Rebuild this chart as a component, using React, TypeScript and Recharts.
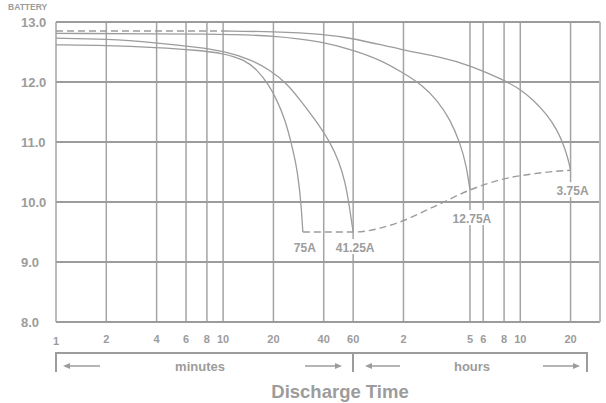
import React from 'react';
import { LineChart, Line, XAxis, YAxis, CartesianGrid, ReferenceLine, ReferenceDot } from 'recharts';

const GRAY = '#9c9c9c';
const FONT = '"Liberation Sans", Arial, Helvetica, sans-serif';

// discharge time in minutes, log axis; labels switch to hours after 60
const timeTicks = [1, 2, 4, 6, 8, 10, 20, 40, 60, 120, 300, 360, 480, 600, 1200];
const timeTickLabels = ['1', '2', '4', '6', '8', '10', '20', '40', '60', '2', '5', '6', '8', '10', '20'];
const voltTicks = [8, 9, 10, 11, 12, 13];
const voltTickLabels = ['8.0', '9.0', '10.0', '11.0', '12.0', '13.0'];

// 75A
const t75A = [1, 2, 4, 7, 10, 13.5, 16, 18.6, 21, 23.5, 25.5, 27.4, 28.5, 29.3, 30];
const v75A = [12.62, 12.61, 12.575, 12.53, 12.48, 12.37, 12.2, 11.97, 11.7, 11.37, 11.0, 10.62, 10.28, 9.95, 9.5];
// 41.25A
const t41A = [1, 2, 4, 7, 10, 14.5, 19.1, 24.2, 28.9, 35.6, 43.7, 49.5, 53.8, 56.8, 60];
const v41A = [12.73, 12.72, 12.655, 12.58, 12.52, 12.38, 12.2, 11.97, 11.7, 11.37, 11.0, 10.67, 10.33, 9.95, 9.5];
// 12.75A
const t12A = [1, 10, 20, 40, 60, 87, 120, 155, 191, 229, 262, 285, 300];
const v12A = [12.81, 12.8, 12.775, 12.67, 12.53, 12.37, 12.15, 11.95, 11.7, 11.37, 10.98, 10.62, 10.2];
// 3.75A
const t3A = [10, 20, 40, 60, 120, 199, 300, 480, 600, 718, 859, 1000, 1102, 1164, 1200];
const v3A = [12.85, 12.84, 12.8, 12.73, 12.53, 12.42, 12.28, 12.03, 11.88, 11.7, 11.47, 11.2, 10.92, 10.7, 10.53];
// dashed: float level at start, and end-of-discharge voltage
const tFloat = [1, 10];
const vFloat = [12.85, 12.85];
const tEnd = [30, 60, 115, 182, 300, 456, 718, 1200];
const vEnd = [9.5, 9.5, 9.67, 9.92, 10.2, 10.37, 10.47, 10.53];

const toPoints = (t: number[], v: number[]) => t.map((m, i) => ({ t: m, v: v[i] }));

const curves = [
  { name: '75A', data: toPoints(t75A, v75A), dy: 15 },
  { name: '41.25A', data: toPoints(t41A, v41A), dy: 15 },
  { name: '12.75A', data: toPoints(t12A, v12A), dy: 28 },
  { name: '3.75A', data: toPoints(t3A, v3A), dy: 20 },
];

const XTick = (props: any) => {
  const { x, payload, index } = props;
  const first = index === 0;
  return (
    <text x={x} y={first ? 345 : 343} textAnchor="middle" fill={GRAY} fontSize={11} fontWeight="bold" fontFamily={FONT}>
      {timeTickLabels[timeTicks.indexOf(payload.value)]}
    </text>
  );
};

const YTick = (props: any) => {
  const { y, payload } = props;
  return (
    <text x={21} y={y + 4.5} textAnchor="start" fill={GRAY} fontSize={13} fontWeight="bold" fontFamily={FONT}>
      {voltTickLabels[voltTicks.indexOf(payload.value)]}
    </text>
  );
};

const endLabel = (text: string, dy: number) => (props: any) => {
  const { cx, cy } = props;
  const w = text.length * 7 + 2;
  return (
    <g>
      <rect x={cx + 2 - w / 2} y={cy + dy - 8} width={w} height={15} fill="#fff" />
      <text x={cx + 2} y={cy + dy + 4.5} textAnchor="middle" fill={GRAY} fontSize={12} fontWeight="bold" fontFamily={FONT}>
        {text}
      </text>
    </g>
  );
};

const Arrow = ({ x1, x2, y }: { x1: number; x2: number; y: number }) => {
  const dir = x2 > x1 ? 1 : -1;
  return (
    <g>
      <line x1={x1} y1={y} x2={x2 - dir * 5} y2={y} stroke={GRAY} strokeWidth={1.5} />
      <polygon points={`${x2},${y} ${x2 - dir * 7},${y - 3} ${x2 - dir * 7},${y + 3}`} fill={GRAY} />
    </g>
  );
};

export default function App() {
  return (
    <div style={{ position: 'absolute', left: 0, top: 0, width: 606, height: 403, background: '#fff', fontFamily: FONT }}>
      <LineChart width={606} height={403} margin={{ top: 22, right: 6, bottom: 0, left: 0 }}>
        <CartesianGrid horizontal={false} stroke="#a4a4a4" strokeWidth={1.5} />
        <CartesianGrid vertical={false} stroke={GRAY} strokeWidth={2} />
        <XAxis
          dataKey="t"
          type="number"
          scale="log"
          domain={[1, 1800]}
          ticks={timeTicks}
          interval={0}
          allowDataOverflow
          axisLine={false}
          tickLine={false}
          height={81}
          tick={<XTick />}
        />
        <YAxis
          type="number"
          domain={[8, 13]}
          ticks={voltTicks}
          interval={0}
          axisLine={false}
          tickLine={false}
          width={56}
          tick={<YTick />}
        />
        <ReferenceLine x={1800} stroke="#bbbbbb" strokeWidth={2} />
        <Line data={toPoints(tFloat, vFloat)} dataKey="v" type="linear" stroke={GRAY} strokeWidth={1.6} strokeDasharray="7 4" dot={false} isAnimationActive={false} />
        <Line data={toPoints(tEnd, vEnd)} dataKey="v" type="monotone" stroke={GRAY} strokeWidth={1.4} strokeDasharray="7 4" dot={false} isAnimationActive={false} />
        {curves.map((c) => (
          <Line key={c.name} data={c.data} dataKey="v" type="basis" stroke={GRAY} strokeWidth={1.3} dot={false} isAnimationActive={false} />
        ))}
        {curves.map((c) => (
          <ReferenceDot
            key={'lbl' + c.name}
            x={c.data[c.data.length - 1].t}
            y={c.data[c.data.length - 1].v}
            r={0}
            ifOverflow="visible"
            shape={endLabel(c.name, c.dy)}
          />
        ))}
      </LineChart>
      <svg width={606} height={403} style={{ position: 'absolute', left: 0, top: 0, pointerEvents: 'none' }}>
        <text x={8} y={10} fill={GRAY} fontSize={8.5} fontWeight="bold" fontFamily={FONT}>BATTERY</text>
        <path d="M56,372 V353 H587 V372 M353,353 V372" fill="none" stroke={GRAY} strokeWidth={2} />
        <Arrow x1={100} x2={63} y={366} />
        <Arrow x1={305} x2={342} y={366} />
        <Arrow x1={400} x2={365} y={366} />
        <Arrow x1={543} x2={580} y={366} />
        <text x={200} y={371} textAnchor="middle" fill={GRAY} fontSize={13} fontWeight="bold" fontFamily={FONT}>minutes</text>
        <text x={472} y={371} textAnchor="middle" fill={GRAY} fontSize={13} fontWeight="bold" fontFamily={FONT}>hours</text>
        <text x={340} y={398} textAnchor="middle" fill={GRAY} fontSize={18.5} fontWeight="bold" fontFamily={FONT}>Discharge Time</text>
      </svg>
    </div>
  );
}
